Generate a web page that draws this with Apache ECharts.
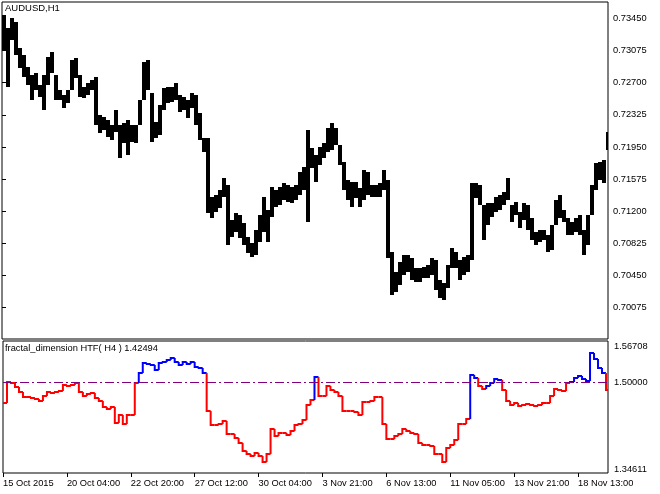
<!DOCTYPE html>
<html><head><meta charset="utf-8">
<script src="https://cdn.jsdelivr.net/npm/echarts@6/dist/echarts.min.js"></script>
<style>html,body{margin:0;padding:0;background:#fff}#c{width:660px;height:494px}</style>
</head><body><div id="c"></div>
<script>
// ---- data ----
const timeLabels = ['15 Oct 2015','20 Oct 04:00','22 Oct 20:00','27 Oct 12:00','30 Oct 04:00','3 Nov 21:00','6 Nov 13:00','11 Nov 05:00','13 Nov 21:00','18 Nov 13:00'];
const priceTicks = [0.70075,0.70450,0.70825,0.71200,0.71575,0.71950,0.72325,0.72700,0.73075,0.73450];
const priceHigh = [0.73491,0.73339,0.73456,0.73409,0.73105,0.73024,0.72883,0.72790,0.72813,0.72673,
 0.72790,0.73000,0.73059,0.72790,0.72615,0.72556,0.72615,0.72965,0.72989,0.72790,
 0.72650,0.72697,0.72732,0.72767,0.72323,0.72299,0.72264,0.72206,0.72381,0.72206,
 0.72229,0.72264,0.72206,0.72206,0.72498,0.72942,0.72965,0.72580,0.72241,0.72440,
 0.72638,0.72650,0.72650,0.72697,0.72556,0.72533,0.72498,0.72580,0.72556,0.72346,
 0.72054,0.72054,0.71365,0.71388,0.71447,0.71587,0.71505,0.71096,0.71178,0.71155,
 0.71061,0.70898,0.70828,0.70980,0.71155,0.71365,0.71213,0.71482,0.71447,0.71482,
 0.71529,0.71505,0.71482,0.71505,0.71657,0.71715,0.72148,0.71937,0.71856,0.71949,
 0.71996,0.72171,0.72229,0.72171,0.71972,0.71774,0.71564,0.71540,0.71540,0.71470,
 0.71680,0.71657,0.71505,0.71505,0.71529,0.71680,0.71564,0.70723,0.70489,0.70606,
 0.70688,0.70688,0.70653,0.70536,0.70536,0.70547,0.70571,0.70653,0.70629,0.70396,
 0.70361,0.70571,0.70769,0.70723,0.70629,0.70664,0.70688,0.71529,0.71529,0.71505,
 0.71272,0.71295,0.71295,0.71365,0.71388,0.71423,0.71587,0.71272,0.71307,0.71190,
 0.71295,0.71272,0.71120,0.70956,0.70980,0.70980,0.70921,0.71038,0.71330,0.71388,
 0.71213,0.71120,0.71073,0.71120,0.71155,0.70980,0.71155,0.71505,0.71762,0.71774,
 0.71797,0.72124];
const priceLow = [0.73082,0.72650,0.73199,0.73024,0.72872,0.72767,0.72673,0.72498,0.72615,0.72533,
 0.72381,0.72673,0.72813,0.72498,0.72498,0.72405,0.72463,0.72615,0.72755,0.72533,
 0.72521,0.72556,0.72615,0.72206,0.72113,0.72148,0.72066,0.72031,0.72124,0.71821,
 0.71996,0.71856,0.72007,0.71996,0.72206,0.72498,0.72615,0.72007,0.72054,0.72089,
 0.72381,0.72463,0.72475,0.72498,0.72358,0.72381,0.72288,0.72405,0.72206,0.72031,
 0.71891,0.71178,0.71120,0.71190,0.71237,0.71365,0.70804,0.70898,0.70956,0.70886,
 0.70804,0.70711,0.70664,0.70688,0.70839,0.70956,0.70839,0.71131,0.71248,0.71272,
 0.71330,0.71307,0.71295,0.71330,0.71388,0.71447,0.71073,0.71704,0.71540,0.71739,
 0.71821,0.71891,0.71914,0.71972,0.71739,0.71447,0.71330,0.71248,0.71353,0.71248,
 0.71330,0.71388,0.71365,0.71365,0.71365,0.71447,0.70653,0.70220,0.70255,0.70337,
 0.70454,0.70489,0.70396,0.70372,0.70372,0.70419,0.70419,0.70454,0.70279,0.70185,
 0.70162,0.70302,0.70536,0.70536,0.70396,0.70454,0.70489,0.70629,0.71353,0.71272,
 0.70863,0.71038,0.71131,0.71190,0.71213,0.71272,0.71330,0.71073,0.71155,0.71003,
 0.71096,0.70980,0.70863,0.70804,0.70839,0.70863,0.70723,0.70746,0.71038,0.71120,
 0.71073,0.70921,0.70921,0.70956,0.70921,0.70688,0.70804,0.71155,0.71447,0.71564,
 0.71529,0.71914];
const fdTicks = [1.34611, 1.50000, 1.56708];
const fdLevel = 1.5;
const fdValues = [1.46514,1.50169,1.50000,1.49157,1.48369,1.47526,1.47470,1.47357,1.47245,1.46795,
 1.47638,1.48369,1.48201,1.48313,1.48594,1.49606,1.49325,1.49494,1.49888,1.48369,
 1.47638,1.48032,1.48201,1.47357,1.46795,1.45783,1.45558,1.45783,1.43140,1.44433,
 1.42971,1.44433,1.44546,1.49888,1.51687,1.53261,1.53093,1.52980,1.52137,1.53261,
 1.53542,1.53824,1.54105,1.53542,1.52980,1.53430,1.53093,1.53542,1.52699,1.52418,
 1.51574,1.45220,1.42690,1.42690,1.42859,1.43421,1.41284,1.41172,1.40610,1.39766,
 1.38360,1.37910,1.37517,1.37967,1.37517,1.36561,1.37910,1.42015,1.40891,1.41397,
 1.41397,1.41060,1.41734,1.42746,1.42971,1.43702,1.46233,1.47076,1.51012,1.47638,
 1.47638,1.49438,1.48763,1.48369,1.47638,1.45220,1.45220,1.45108,1.44996,1.44433,
 1.46682,1.46682,1.46795,1.47470,1.47470,1.42971,1.40328,1.40328,1.40891,1.41284,
 1.42015,1.41734,1.41453,1.41284,1.39766,1.39316,1.39316,1.39204,1.37910,1.37910,
 1.36505,1.38923,1.39316,1.40160,1.42859,1.42859,1.43871,1.51293,1.50731,1.49325,
 1.48932,1.49325,1.49888,1.50619,1.50450,1.48763,1.46795,1.46233,1.46514,1.45951,
 1.46120,1.46401,1.46233,1.45951,1.46233,1.46514,1.46514,1.47638,1.48875,1.48763,
 1.48482,1.49888,1.50169,1.50731,1.51181,1.50619,1.50281,1.54948,1.53992,1.52530,
 1.51574,1.48763];
// 1 = blue (trend state), 0 = red
const fdColorFlags = [0,0,0,0,0,0,0,0,0,0, 0,0,0,0,0,0,0,0,0,0, 0,0,0,0,0,0,0,0,0,0,
 0,0,0,0,1,1,1,1,1,1, 1,1,1,1,1,1,1,1,1,1, 1,0,0,0,0,0,0,0,0,0,
 0,0,0,0,0,0,0,0,0,0, 0,0,0,0,0,0,0,0,1,0, 0,0,0,0,0,0,0,0,0,0,
 0,0,0,0,0,0,0,0,0,0, 0,0,0,0,0,0,0,0,0,0, 0,0,0,0,0,0,0,1,1,0,
 0,1,1,1,1,0,0,0,0,0, 0,0,0,0,0,0,0,0,0,0, 0,0,1,1,1,1,1,1,1,1, 1,0];

// ---- layout / style ----
const FONT = '"Liberation Sans", Arial, sans-serif';
const H4 = 4;              // hourly bars per H4 bar
const LABEL_STEP = 64;     // hourly bars between time labels
const lastIdx = 606;
const labelIdx = timeLabels.map((_, i) => i * LABEL_STEP);

const priceData = priceHigh.map((h, k) => [k * H4, h, priceLow[k]]);
const fdData = fdValues.map((v, k) => [k * H4, v, k > 0 ? fdValues[k - 1] : v, fdColorFlags[k]]);

function near(a, b) { return Math.abs(a - b) < 1e-7; }

const chart = echarts.init(document.getElementById('c'));
chart.setOption({
  animation: false,
  backgroundColor: '#fff',
  textStyle: { fontFamily: FONT },
  title: [
    { text: 'AUDUSD,H1', left: 5, top: 3, padding: 0,
      textStyle: { fontSize: 9.5, fontWeight: 'normal', color: '#000', fontFamily: FONT } },
    { text: 'fractal_dimension HTF( H4 ) 1.42494', left: 5, top: 344, padding: 0,
      textStyle: { fontSize: 9.3, fontWeight: 'normal', color: '#000', fontFamily: FONT } }
  ],
  grid: [
    { left: 2, top: 2, width: 606, height: 337, show: true, borderColor: '#000', borderWidth: 1 },
    { left: 2, top: 341, width: 606, height: 132, show: true, borderColor: '#000', borderWidth: 1 }
  ],
  xAxis: [
    { gridIndex: 0, type: 'value', min: 0, max: lastIdx, show: false },
    { gridIndex: 1, type: 'value', min: 0, max: lastIdx,
      axisLine: { show: false },
      axisTick: { show: true, length: 4, customValues: labelIdx, lineStyle: { color: '#000' } },
      axisLabel: { customValues: labelIdx, formatter: v => timeLabels[Math.round(v / LABEL_STEP)] || '',
        align: 'left', margin: 6, fontSize: 9.3, color: '#000', fontFamily: FONT },
      splitLine: { show: false } }
  ],
  yAxis: [
    { gridIndex: 0, type: 'value', position: 'right', min: 0.69707, max: 0.73643,
      axisLine: { show: false },
      axisTick: { show: true, length: 4, customValues: priceTicks, lineStyle: { color: '#000' } },
      axisLabel: { customValues: priceTicks, formatter: v => v.toFixed(5), margin: 5,
        fontSize: 9.3, color: '#000', fontFamily: FONT },
      splitLine: { show: false } },
    { gridIndex: 1, type: 'value', position: 'right', min: fdTicks[0], max: 1.57057,
      axisLine: { show: false },
      axisTick: { show: true, length: 4, customValues: [fdTicks[1]], lineStyle: { color: '#000' } },
      axisLabel: { customValues: fdTicks, margin: 6, fontSize: 9.3, color: '#000', fontFamily: FONT,
        formatter: v => {
          const s = v.toFixed(5);
          if (near(v, fdTicks[2])) return '{t|' + s + '}';
          if (near(v, fdTicks[0])) return '{b|' + s + '}';
          return s;
        },
        rich: {
          t: { fontSize: 9.3, color: '#000', fontFamily: FONT, padding: [7, 0, 0, 0] },
          b: { fontSize: 9.3, color: '#000', fontFamily: FONT, padding: [0, 0, 8, 0] }
        } },
      splitLine: { show: false } }
  ],
  series: [
    { type: 'custom', xAxisIndex: 0, yAxisIndex: 0, data: priceData, clip: true,
      encode: { x: 0, y: [1, 2] },
      renderItem: (params, api) => {
        const x = api.value(0);
        const p1 = api.coord([x, api.value(1)]);
        const p2 = api.coord([x + H4, api.value(2)]);
        return { type: 'rect',
          shape: { x: Math.round(p1[0]), y: Math.round(p1[1]), width: Math.round(p2[0]) - Math.round(p1[0]), height: Math.max(1, Math.round(p2[1] - p1[1])) },
          style: { fill: '#000' } };
      } },
    { type: 'custom', xAxisIndex: 1, yAxisIndex: 1, data: fdData, clip: true,
      encode: { x: 0, y: [1, 2] },
      renderItem: (params, api) => {
        const x = api.value(0);
        const a = api.coord([x, api.value(2)]);
        const b = api.coord([x, api.value(1)]);
        const c = api.coord([x + H4, api.value(1)]);
        const col = api.value(3) ? '#0000ff' : '#ff0000';
        return { type: 'polyline',
          shape: { points: [[a[0], Math.round(a[1])], [b[0], Math.round(b[1])], [c[0], Math.round(c[1])]] },
          style: { stroke: col, lineWidth: 2, fill: null } };
      },
      markLine: { silent: true, symbol: 'none', label: { show: false },
        lineStyle: { color: '#800080', width: 1, type: [9, 3, 2, 3] },
        data: [{ yAxis: fdLevel }] } }
  ]
});
</script></body></html>
